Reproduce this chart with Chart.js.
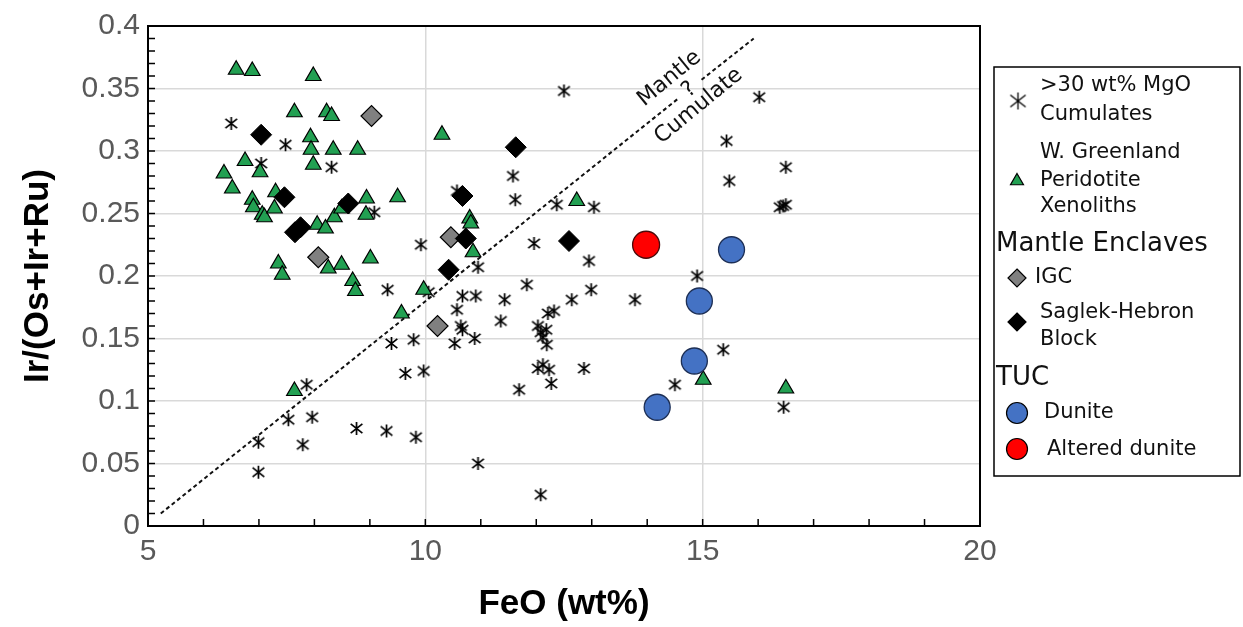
<!DOCTYPE html>
<html>
<head>
<meta charset="utf-8">
<script src="https://cdn.jsdelivr.net/npm/chart.js@4.4.0/dist/chart.umd.min.js"></script>
<style>
  html, body { margin: 0; padding: 0; background: #fff; }
  #wrap { position: relative; width: 1243px; height: 627px; }
</style>
</head>
<body>
<div id="wrap"><canvas id="chart"></canvas></div>
<script>
// >30 wt% MgO cumulates
const cumFeO = [6.5, 7.48, 7.04, 8.31, 9.08, 9.92, 9.32, 9.39, 9.79, 7.86, 7.53, 7.96, 6.99, 7.79, 6.99, 8.76, 9.3, 9.83, 9.64, 9.97,
  12.5, 11.58, 10.57, 11.62, 13.04, 12.37, 11.96, 10.95, 12.95, 14.9, 10.06, 10.67, 10.91, 11.43, 11.83, 12.64, 12.99, 13.78,
  10.57, 12.21, 12.32, 11.36, 10.64, 10.67, 12.03, 12.08, 12.18, 12.12, 10.89, 10.53, 12.19,
  12.03, 12.12, 12.23, 12.27, 11.69, 12.86, 14.5, 10.95, 12.08,
  16.02, 15.43, 15.48, 16.5, 16.39, 16.5, 16.45, 15.37, 16.46];
const cumIr = [0.322, 0.305, 0.290, 0.287, 0.251, 0.225, 0.189, 0.146, 0.149, 0.113, 0.085, 0.087, 0.067, 0.065, 0.043, 0.078, 0.076, 0.071, 0.122, 0.124,
  0.348, 0.280, 0.268, 0.261, 0.255, 0.257, 0.226, 0.207, 0.212, 0.200, 0.187, 0.184, 0.184, 0.181, 0.193, 0.181, 0.189, 0.181,
  0.173, 0.170, 0.172, 0.164, 0.160, 0.157, 0.160, 0.155, 0.157, 0.151, 0.150, 0.146, 0.145,
  0.126, 0.129, 0.125, 0.114, 0.109, 0.126, 0.113, 0.050, 0.025,
  0.343, 0.308, 0.276, 0.287, 0.255, 0.257, 0.256, 0.141, 0.095];

// W. Greenland peridotite xenoliths
const wgFeO = [6.59, 6.88, 7.98, 7.64, 8.22, 8.31, 7.93, 7.94, 8.34, 8.78, 6.37, 6.75, 7.02, 7.98, 6.52, 6.88, 6.9, 7.3, 7.06, 7.1,
  7.28, 8.05, 8.2, 8.36, 8.49, 8.94, 9.5, 8.93, 7.35, 7.42, 8.25, 8.49, 8.69, 8.74, 9.01, 9.97, 9.57, 7.64, 10.3, 12.73,
  10.8, 10.82, 10.86, 15.01, 16.5];
const wgIr = [0.365, 0.364, 0.360, 0.331, 0.331, 0.328, 0.311, 0.301, 0.301, 0.301, 0.282, 0.292, 0.283, 0.289, 0.270, 0.261, 0.255, 0.267, 0.249, 0.247,
  0.254, 0.241, 0.238, 0.247, 0.254, 0.262, 0.263, 0.249, 0.210, 0.201, 0.206, 0.209, 0.196, 0.188, 0.214, 0.189, 0.170, 0.108, 0.313, 0.260,
  0.246, 0.242, 0.219, 0.117, 0.110];

// Mantle enclaves
const igcFeO = [9.03, 8.07, 10.46, 10.22];
const igcIr = [0.328, 0.215, 0.231, 0.160];
const shbFeO = [7.04, 7.46, 8.61, 7.65, 7.75, 11.63, 10.67, 10.73, 12.59, 10.42];
const shbIr = [0.313, 0.263, 0.258, 0.235, 0.239, 0.303, 0.264, 0.230, 0.228, 0.205];

// TUC
const dunFeO = [14.18, 14.85, 14.94, 15.52];
const dunIr = [0.095, 0.132, 0.180, 0.221];
const altFeO = [13.98];
const altIr = [0.225];

// Mantle / Cumulate divide (gap where the "?" sits)
const divFeO = [5.23, 14.56, 14.77, 14.98, 15.92];
const divIr = [0.010, 0.342, null, 0.357, 0.390];

const xTicks = [5, 10, 15, 20];

const GREEN = '#22a052';
const BLUE = '#4472c4';

function pts(xs, ys) {
  return xs.map((v, i) => ({ x: v, y: ys[i] }));
}

function makeStar(size, lw) {
  const c = document.createElement('canvas');
  c.width = size + 2; c.height = size + 2;
  const g = c.getContext('2d');
  const m = (size + 2) / 2, r = size / 2;
  g.strokeStyle = '#000';
  g.lineWidth = lw;
  g.beginPath();
  g.moveTo(m, m - r); g.lineTo(m, m + r);
  g.moveTo(m - r * 0.9, m - r * 0.7); g.lineTo(m + r * 0.9, m + r * 0.7);
  g.moveTo(m - r * 0.9, m + r * 0.7); g.lineTo(m + r * 0.9, m - r * 0.7);
  g.stroke();
  return c;
}
const starImg = makeStar(13, 1.7);
const starLegend = makeStar(17, 1.3);

function drawIcon(ctx, kind, x, y) {
  ctx.save();
  ctx.strokeStyle = '#000';
  ctx.lineWidth = 1.2;
  ctx.beginPath();
  if (kind === 'tri') {
    const r = 7.5;
    ctx.moveTo(x, y - r);
    ctx.lineTo(x + r * 0.866, y + r * 0.5);
    ctx.lineTo(x - r * 0.866, y + r * 0.5);
    ctx.closePath();
    ctx.fillStyle = GREEN;
  } else if (kind === 'igc' || kind === 'shb') {
    const r = 9;
    ctx.moveTo(x, y - r); ctx.lineTo(x + r, y); ctx.lineTo(x, y + r); ctx.lineTo(x - r, y);
    ctx.closePath();
    ctx.fillStyle = kind === 'igc' ? '#808080' : '#000';
  } else {
    ctx.arc(x, y, 10.5, 0, Math.PI * 2);
    ctx.fillStyle = kind === 'dun' ? BLUE : '#ff0000';
  }
  ctx.fill();
  ctx.stroke();
  ctx.restore();
}

const frame = {
  id: 'frame',
  afterDraw(chart) {
    const { ctx, chartArea: a, scales: { x, y } } = chart;
    ctx.save();
    // inner minor ticks
    ctx.strokeStyle = '#000';
    ctx.lineWidth = 1.5;
    ctx.beginPath();
    for (let v = 6; v < 20; v++) {
      const px = x.getPixelForValue(v);
      ctx.moveTo(px, a.bottom); ctx.lineTo(px, a.bottom - 7);
    }
    for (let i = 1; i < 40; i++) {
      const py = y.getPixelForValue(i / 100);
      ctx.moveTo(a.left, py); ctx.lineTo(a.left + 7, py);
    }
    ctx.stroke();
    ctx.lineWidth = 2;
    ctx.strokeRect(a.left, a.top, a.right - a.left, a.bottom - a.top);

    // divide labels
    ctx.fillStyle = '#111';
    ctx.font = '22px "DejaVu Sans"';
    ctx.textAlign = 'center';
    ctx.textBaseline = 'middle';
    const ang = -39.5 * Math.PI / 180;
    [['Mantle', 14.40, 0.358], ['?', 14.76, 0.349], ['Cumulate', 14.93, 0.336]].forEach(([t, vx, vy]) => {
      ctx.save();
      ctx.translate(x.getPixelForValue(vx), y.getPixelForValue(vy));
      ctx.rotate(ang);
      ctx.fillText(t, 0, 0);
      ctx.restore();
    });

    // legend box
    ctx.lineWidth = 1.5;
    ctx.strokeStyle = '#000';
    ctx.strokeRect(994, 67, 246, 409);
    ctx.textAlign = 'left';
    ctx.fillStyle = '#111';
    ctx.drawImage(starLegend, 1018 - starLegend.width / 2, 101 - starLegend.height / 2);
    drawIcon(ctx, 'tri', 1017, 181);
    drawIcon(ctx, 'igc', 1017, 278);
    drawIcon(ctx, 'shb', 1017, 322);
    drawIcon(ctx, 'dun', 1017, 413);
    drawIcon(ctx, 'alt', 1017, 449);
    ctx.font = '21px "DejaVu Sans"';
    ctx.fillText('>30 wt% MgO', 1040, 86);
    ctx.fillText('Cumulates', 1040, 115);
    ctx.fillText('W. Greenland', 1040, 153);
    ctx.fillText('Peridotite', 1040, 181);
    ctx.fillText('Xenoliths', 1040, 207);
    ctx.fillText('IGC', 1035, 278);
    ctx.fillText('Saglek-Hebron', 1040, 313);
    ctx.fillText('Block', 1040, 340);
    ctx.fillText('Dunite', 1044, 413);
    ctx.fillText('Altered dunite', 1047, 450);
    ctx.font = '26px "DejaVu Sans"';
    ctx.fillText('Mantle Enclaves', 996, 244);
    ctx.fillText('TUC', 996, 378);
    ctx.restore();
  }
};

Chart.defaults.font.family = '"Liberation Sans", Arial, sans-serif';

new Chart(document.getElementById('chart'), {
  type: 'scatter',
  data: {
    datasets: [
      { label: 'Altered dunite', data: pts(altFeO, altIr), pointStyle: 'circle', pointRadius: 13.5,
        backgroundColor: '#ff0000', borderColor: '#4a0a0a', borderWidth: 1.3 },
      { label: 'Dunite', data: pts(dunFeO, dunIr), pointStyle: 'circle', pointRadius: 13,
        backgroundColor: BLUE, borderColor: '#1d2f55', borderWidth: 1.3 },
      { label: 'Saglek-Hebron Block', data: pts(shbFeO, shbIr), pointStyle: 'rectRot', pointRadius: 10.5,
        backgroundColor: '#000', borderColor: '#000', borderWidth: 1 },
      { label: 'IGC', data: pts(igcFeO, igcIr), pointStyle: 'rectRot', pointRadius: 10.5,
        backgroundColor: '#808080', borderColor: '#000', borderWidth: 1.2 },
      { label: 'W. Greenland Peridotite Xenoliths', data: pts(wgFeO, wgIr), pointStyle: 'triangle', pointRadius: 9,
        backgroundColor: GREEN, borderColor: '#000', borderWidth: 1.2 },
      { label: '>30 wt% MgO Cumulates', data: pts(cumFeO, cumIr), pointStyle: starImg, pointRadius: 6 },
      { label: 'divide', data: pts(divFeO, divIr), showLine: true, spanGaps: false, pointRadius: 0,
        borderColor: '#111', borderWidth: 2, borderDash: [4, 3], fill: false }
    ]
  },
  options: {
    responsive: true,
    maintainAspectRatio: false,
    animation: false,
    events: [],
    layout: { padding: { top: 18, right: 263, left: 0, bottom: 0 } },
    plugins: { legend: { display: false }, tooltip: { enabled: false } },
    scales: {
      x: {
        type: 'linear', min: 5, max: 20,
        afterFit: s => { s.height = 101; },
        afterBuildTicks: s => { s.ticks = xTicks.map(v => ({ value: v })); },
        grid: { color: '#d9d9d9', lineWidth: 1.5, drawTicks: false },
        border: { display: false },
        ticks: { color: '#595959', font: { size: 30 }, padding: 8 },
        title: { display: true, text: 'FeO (wt%)', color: '#000', font: { size: 35, weight: 'bold' }, padding: { top: 0, bottom: 2 } }
      },
      y: {
        type: 'linear', min: 0, max: 0.4,
        afterFit: s => { s.width = 148; },
        grid: { color: '#d9d9d9', lineWidth: 1.5, drawTicks: false },
        border: { display: false },
        ticks: { color: '#595959', font: { size: 30 }, padding: 8, stepSize: 0.05,
          callback: v => String(Number(v.toFixed(2))) },
        title: { display: true, text: 'Ir/(Os+Ir+Ru)', color: '#000', font: { size: 35, weight: 'bold' }, padding: { top: 17, bottom: 0 } }
      }
    }
  },
  plugins: [frame]
});
</script>
</body>
</html>
